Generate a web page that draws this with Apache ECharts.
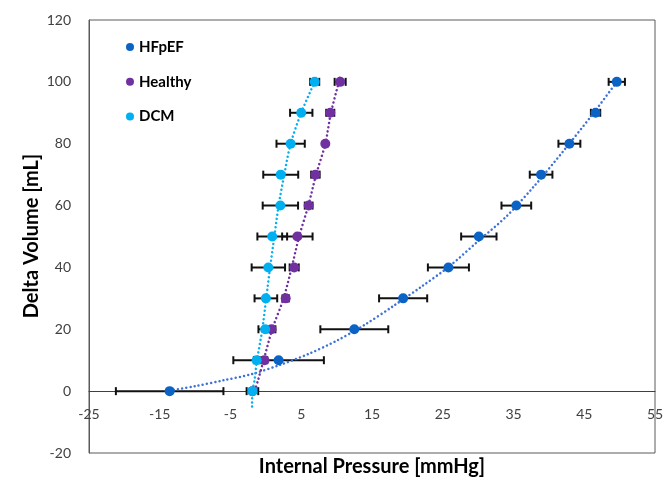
<!DOCTYPE html>
<html><head><meta charset="utf-8">
<script src="https://cdn.jsdelivr.net/npm/echarts@6/dist/echarts.min.js"></script>
<style>html,body{margin:0;padding:0;background:#fff}#c{width:668px;height:481px}</style>
</head><body><div id="c"></div>
<script>
// Delta volume levels (y) shared by all groups
const volumes = [0, 10, 20, 30, 40, 50, 60, 70, 80, 90, 100];
// Internal pressure means (x) and +/- error (mmHg)
const hfpefPressure = [-13.6, 1.8, 12.5, 19.4, 25.8, 30.1, 35.4, 38.9, 42.9, 46.6, 49.6];
const hfpefError    = [7.6, 6.4, 4.8, 3.4, 2.9, 2.5, 2.1, 1.6, 1.55, 0.66, 1.15];
const healthyPressure = [-1.9, -0.2, 0.8, 2.8, 4.0, 4.45, 6.05, 7.0, 8.4, 9.1, 10.5];
const healthyError    = [0.3, 0.4, 0.55, 0.45, 0.64, 2.15, 0.55, 0.6, 0, 0.57, 0.78];
const dcmPressure = [-1.9, -1.3, -0.1, 0.0, 0.35, 0.9, 2.05, 2.1, 3.5, 5.0, 6.9];
const dcmError    = [0.82, 0.4, 0.95, 1.6, 2.36, 2.1, 2.5, 2.47, 2.0, 1.58, 0.64];
// Trendlines (x, y)
const hfpefTrendX = [-13.6, -10, -6, -2, 2, 6, 10, 14, 18, 22, 26, 30, 34, 38, 42, 46, 49.6];
const hfpefTrendY = [0.2, 1.6, 3.5, 5.5, 8.5, 12.0, 16.3, 21.5, 27.5, 33.8, 40.5, 48.5, 56.5, 66.5, 77.5, 89, 100];
const healthyTrendX = [-1.85, -1.6, -1.1, -0.4, 0.9, 2.5, 3.65, 4.7, 6.0, 7.1, 8.4, 9.2, 10.5];
const healthyTrendY = [-1, 0, 3.6, 9.3, 20, 30, 40, 50, 60, 70, 80, 90, 101.5];
const dcmTrendX = [-1.95, -1.9, -1.6, -1.3, -0.5, 0.05, 0.6, 1.2, 1.8, 2.6, 3.5, 5.0, 6.9];
const dcmTrendY = [-5, 0, 3.6, 9.3, 20, 30, 40, 50, 60, 70, 80, 90, 100];
// Axis ticks
const xTicks = {min: -25, max: 55, step: 10};
const yTicks = {min: -20, max: 120, step: 20};

const groups = [
  {name: 'HFpEF', x: hfpefPressure, e: hfpefError, tx: hfpefTrendX, ty: hfpefTrendY, color: '#0B63C5', trend: '#3F72D6'},
  {name: 'Healthy', x: healthyPressure, e: healthyError, tx: healthyTrendX, ty: healthyTrendY, color: '#7030A0', trend: '#7030A0'},
  {name: 'DCM', x: dcmPressure, e: dcmError, tx: dcmTrendX, ty: dcmTrendY, color: '#00B0F0', trend: '#00B0F0'}
];

function errRender(params, api) {
  const x = api.value(0), y = api.value(1), e = api.value(2);
  if (!e) return null;
  const lo = api.coord([x - e, y]), hi = api.coord([x + e, y]);
  const h = 4;
  const style = {stroke: '#111', lineWidth: 2};
  return {type: 'group', children: [
    {type: 'line', shape: {x1: lo[0], y1: lo[1], x2: hi[0], y2: hi[1]}, style: style},
    {type: 'line', shape: {x1: lo[0], y1: lo[1] - h, x2: lo[0], y2: lo[1] + h}, style: style},
    {type: 'line', shape: {x1: hi[0], y1: hi[1] - h, x2: hi[0], y2: hi[1] + h}, style: style}
  ]};
}

const series = [];
groups.forEach(g => {
  series.push({
    name: g.name + ' trend', type: 'line', z: 3, silent: true, showSymbol: false, smooth: 0.3,
    data: g.tx.map((v, i) => [v, g.ty[i]]),
    lineStyle: {color: g.trend, width: 2.5, type: [0.01, 4.2], cap: 'round'}
  });
});
groups.forEach(g => {
  series.push({
    name: g.name + ' error', type: 'custom', z: 2, silent: true,
    renderItem: errRender, encode: {x: 0, y: 1},
    data: volumes.map((v, i) => [g.x[i], v, g.e[i]])
  });
});
groups.forEach(g => {
  series.push({
    name: g.name, type: 'scatter', z: 4, symbol: 'circle', symbolSize: 10,
    itemStyle: {color: g.color, opacity: 1},
    data: volumes.map((v, i) => [g.x[i], v])
  });
});

const chart = echarts.init(document.getElementById('c'), null, {renderer: 'canvas'});
chart.setOption({
  animation: false,
  backgroundColor: '#fff',
  grid: {left: 89, right: 13, top: 20, bottom: 28, show: true, borderColor: '#5a5a5a', borderWidth: 1, containLabel: false},
  legend: {
    data: groups.map(g => g.name), orient: 'vertical', left: 121, top: 34,
    icon: 'circle', itemWidth: 8, itemHeight: 8, itemGap: 18.7,
    textStyle: {fontFamily: 'Lato', fontWeight: 'bold', fontSize: 15, color: '#000', lineHeight: 16}
  },
  xAxis: {
    type: 'value', min: xTicks.min, max: xTicks.max, interval: xTicks.step,
    axisLine: {show: true, onZero: true, lineStyle: {color: '#404040', width: 1}},
    axisTick: {show: false}, splitLine: {show: false},
    axisLabel: {fontFamily: 'Lato', fontSize: 14, color: '#404040', margin: -46, showMinLabel: true, showMaxLabel: true}
  },
  yAxis: {
    type: 'value', min: yTicks.min, max: yTicks.max, interval: yTicks.step,
    axisLine: {show: true, onZero: false, lineStyle: {color: '#5a5a5a', width: 1}},
    axisTick: {show: false}, splitLine: {show: false},
    axisLabel: {fontFamily: 'Lato', fontSize: 14, color: '#404040', margin: 18}
  },
  graphic: [
    {type: 'text', x: 372, y: 467, silent: true,
     style: {text: 'Internal Pressure [mmHg]', font: 'bold 20px Lato', fill: '#000', align: 'center', verticalAlign: 'middle', textAlign: 'center', textVerticalAlign: 'middle'}},
    {type: 'text', x: 32, y: 236, rotation: Math.PI / 2, silent: true,
     style: {text: 'Delta Volume [mL]', font: 'bold 20px Lato', fill: '#000', align: 'center', verticalAlign: 'middle', textAlign: 'center', textVerticalAlign: 'middle'}}
  ],
  series: series
});
</script>
</body></html>
